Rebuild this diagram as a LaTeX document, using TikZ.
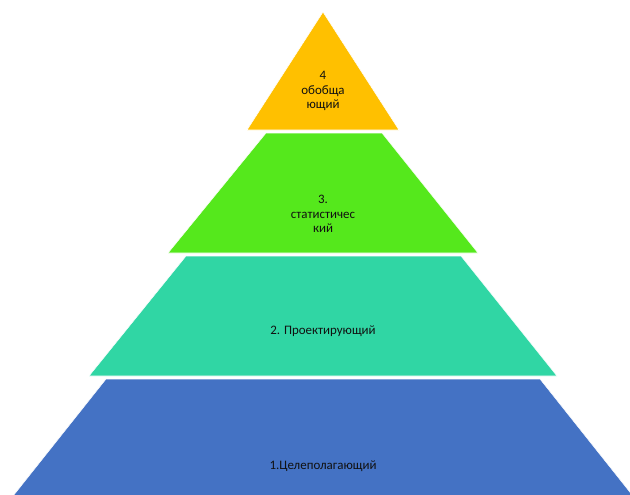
\documentclass[tikz,border=0pt]{standalone}
\usepackage{fontspec}
\setmainfont{Carlito}
\usepackage{tikz}
\usetikzlibrary{positioning}
\usepackage{xcolor}
\definecolor{levelTop}{HTML}{FFC000}
\definecolor{levelStat}{HTML}{55E81C}
\definecolor{levelProj}{HTML}{30D6A4}
\definecolor{levelGoal}{HTML}{4472C4}
\definecolor{labelInk}{HTML}{111111}

\begin{document}
\begin{tikzpicture}[
  x=0.75pt, y=-0.75pt,
  font=\fontsize{9.7}{11}\selectfont,
  every node/.style={align=center},
  layer/.style={draw=white, line width=0.4pt},
  caption/.style={text=labelInk, inner sep=1pt},
]

% ── Canvas ─────────────────────────────────────────────────────────
\useasboundingbox (0,0) rectangle (630,494);
\clip (0,0) rectangle (630,494);

% ── Layers (bottom to top) ─────────────────────────────────────────
\fill[layer, fill=levelGoal] (106,379) -- (540,379) -- (633,496) -- (13,496) -- cycle;
\fill[layer, fill=levelProj] (186,256) -- (461,256) -- (557,376) -- (89,376) -- cycle;
\fill[layer, fill=levelStat] (266,133) -- (382,133) -- (478,253) -- (168,253) -- cycle;
\fill[layer, fill=levelTop]  (323,12)  -- (399,130) -- (247,130) -- cycle;

% ── Labels ─────────────────────────────────────────────────────────
\node[caption] (lvlTop)  at (323,91)  {4\\обобща\\ющий};
\node[caption] (lvlStat) at (323,214) {3.\\статистичес\\кий};
\node[caption] (lvlProj) at (323,331) {2. Проектирующий};
\node[caption] (lvlGoal) at (323,466) {1.Целеполагающий};

\end{tikzpicture}
\end{document}
